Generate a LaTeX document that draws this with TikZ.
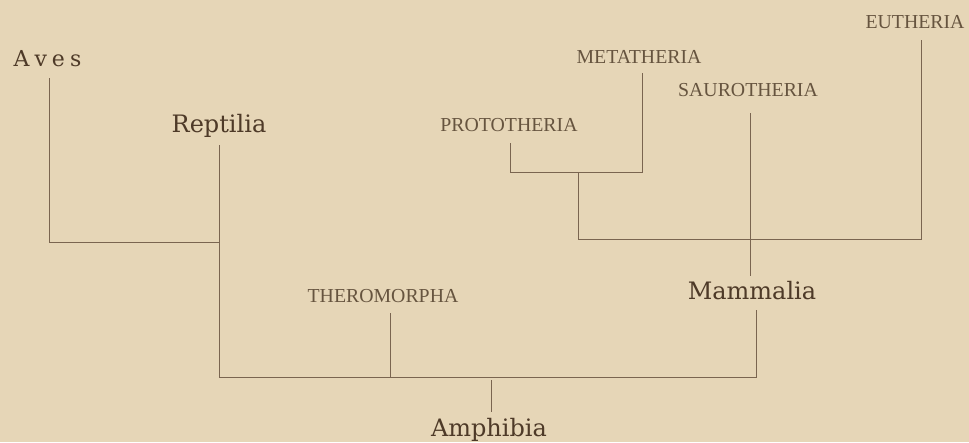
\documentclass[tikz,border=0pt]{standalone}
\usepackage{fontspec}
\setmainfont{Liberation Serif}
\newfontfamily\groupfont{DejaVu Serif}
\definecolor{paper}{HTML}{E6D6B7}
\definecolor{ink}{HTML}{4E3A28}
\definecolor{inkcaps}{HTML}{66543F}
\definecolor{inkline}{HTML}{7A6550}
\tikzset{group/.style={inner sep=0pt,anchor=base,text=ink,font=\groupfont\fontsize{24}{24}\selectfont},order/.style={inner sep=0pt,anchor=base,text=inkcaps,font=\fontsize{19.8}{19.8}\selectfont},branch/.style={draw=inkline,line width=0.9pt}}

\begin{document}
\begin{tikzpicture}[x=1pt,y=-1pt]
\fill[paper] (0,0) rectangle (969,442);
\useasboundingbox (0,0) rectangle (969,442);
% class names
\node[group,font=\groupfont\fontsize{22}{22}\selectfont] (aves) at (47.5,66) {A\hspace{5pt}v\hspace{5pt}e\hspace{5pt}s};
\node[group] (rept) at (219,132) {Reptilia};
\node[group] (mamm) at (752,299) {Mammalia};
\node[group] (amph) at (489,436) {Amphibia};
% orders
\node[order] (thero) at (383,302) {THEROMORPHA};
\node[order] (proto) at (509,131) {PROTOTHERIA};
\node[order] (meta) at (639,63) {METATHERIA};
\node[order] (sauro) at (748,96) {SAUROTHERIA};
\node[order] (euth) at (915,28) {EUTHERIA};
% stem tops and forks
\coordinate (avesst) at ([xshift=1.5pt,yshift=-12pt]aves.base);
\coordinate (reptst) at ([yshift=-13pt]rept.base);
\coordinate (mammst) at ([xshift=4pt,yshift=-11pt]mamm.base);
\coordinate (amphst) at ([xshift=2pt,yshift=24pt]amph.base);
\coordinate (therost) at ([xshift=7pt,yshift=-11pt]thero.base);
\coordinate (protost) at ([xshift=1pt,yshift=-12pt]proto.base);
\coordinate (metast) at ([xshift=3pt,yshift=-10pt]meta.base);
\coordinate (saurost) at ([xshift=2pt,yshift=-17pt]sauro.base);
\coordinate (euthst) at ([xshift=6pt,yshift=-12pt]euth.base);
\coordinate (fa) at (219,242);
\coordinate (fb) at (491,377);
\coordinate (fc) at (578,172);
\coordinate (fd) at (578,239);
% lower tree
\draw[branch] (avesst) |- (fa);
\draw[branch] (reptst) |- (mammst |- fb) -- (mammst);
\draw[branch] (therost) -- (therost |- fb);
\draw[branch] ([yshift=-3pt]fb) -- (amphst);
% upper tree
\draw[branch] (protost) |- (metast |- fc) -- (metast);
\draw[branch] (fc) -- (fd) -- (euthst |- fd) -- (euthst);
\draw[branch,shorten >=5pt] (saurost) -- (saurost |- mamm.north);
\end{tikzpicture}
\end{document}
